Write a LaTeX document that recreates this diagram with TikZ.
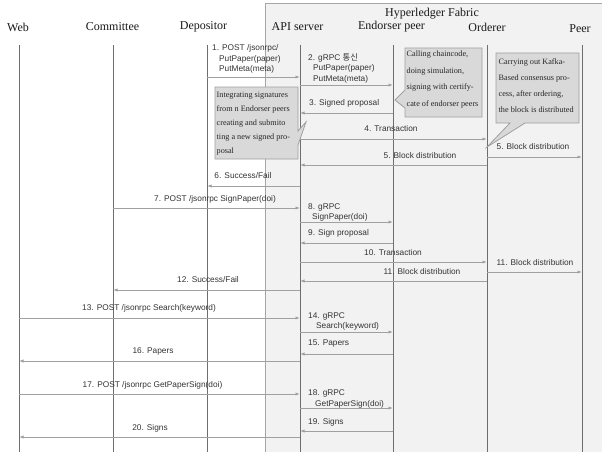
\documentclass[tikz,border=0pt]{standalone}
\usepackage{fontspec}
\setmainfont{Liberation Serif}
\newfontfamily\labfont{Liberation Sans}
\newfontfamily\krfont{Noto Sans CJK KR}
\usetikzlibrary{arrows.meta}
\definecolor{bgfill}{HTML}{F2F2F2}
\definecolor{bgline}{HTML}{A6A6A6}
\definecolor{lifec}{HTML}{6E6E6E}
\definecolor{msgc}{HTML}{A0A0A0}
\definecolor{labc}{HTML}{333333}
\definecolor{notefill}{HTML}{D9D9D9}
\definecolor{notec}{HTML}{A0A0A0}
\begin{document}
\begin{tikzpicture}[x=1pt,y=-1pt,
  life/.style={draw=lifec, line width=0.9pt},
  msg/.style={draw=msgc, line width=0.8pt, -{Latex[length=4.5pt,width=3.2pt]}},
  lab/.style={font=\labfont\fontsize{8.3}{10.5}\selectfont, text=labc, inner sep=0pt},
  ttl/.style={font=\fontsize{12}{14}\selectfont, text=black!90, inner sep=0pt},
  note/.style={draw=notec, fill=notefill, line width=0.8pt},
  notetext/.style={align=left, inner sep=0pt, anchor=west, text=black!85}]
\useasboundingbox (0,0) rectangle (602,452);
% background group
\draw[fill=bgfill, draw=bgline, line width=0.8pt] (265.5,3.5) rectangle (604,455);
% titles
\node[ttl] (fab) at (432,14) {Hyperledger Fabric};
\node[ttl] (tweb) at (18,27) {Web};
\node[ttl] (tcom) at (112.5,27) {Committee};
\node[ttl] (tdep) at (203.5,27) {Depositor};
\node[ttl] (tapi) at (297.5,27) {API server};
\node[ttl] (tend) at (391.5,27) {Endorser peer};
\node[ttl] (tord) at (487,27) {Orderer};
\node[ttl] (tpeer) at (580,29) {Peer};
% lifelines
\coordinate (web) at (19,45);  \coordinate (webB) at (19,453);
\coordinate (com) at (113,45); \coordinate (comB) at (113,453);
\coordinate (dep) at (207,45); \coordinate (depB) at (207,453);
\coordinate (api) at (300,45); \coordinate (apiB) at (300,453);
\coordinate (end) at (393,45); \coordinate (endB) at (393,453);
\coordinate (ord) at (487,45); \coordinate (ordB) at (487,453);
\coordinate (peer) at (582,45); \coordinate (peerB) at (582,453);
\foreach \n in {web,com,dep,api,end,ord,peer} {\draw[life] (\n) -- (\n B);}
% message levels
\foreach \k/\yy in {1/77,2/85,3/113,4/139,5/165,5b/157,6/186,7/208,8/222,9/243,10/262,11/281,11b/272,12/290,13/318,14/332,15/354,16/361,17/394,18/408,19/431,20/437}
  {\coordinate (m\k) at (0,\yy);}
% messages
\draw[msg] (dep|-m1) -- (api|-m1);
\draw[msg] (api|-m2) -- (end|-m2);
\draw[msg] (end|-m3) -- (api|-m3);
\draw[msg] (api|-m4) -- (ord|-m4);
\draw[msg] (ord|-m5) -- (api|-m5);
\draw[msg] (ord|-m5b) -- (peer|-m5b);
\draw[msg] (api|-m6) -- (dep|-m6);
\draw[msg] (com|-m7) -- (api|-m7);
\draw[msg] (api|-m8) -- (end|-m8);
\draw[msg] (end|-m9) -- (api|-m9);
\draw[msg] (api|-m10) -- (ord|-m10);
\draw[msg] (ord|-m11) -- (api|-m11);
\draw[msg] (ord|-m11b) -- (peer|-m11b);
\draw[msg] (api|-m12) -- (com|-m12);
\draw[msg] (web|-m13) -- (api|-m13);
\draw[msg] (api|-m14) -- (end|-m14);
\draw[msg] (end|-m15) -- (api|-m15);
\draw[msg] (api|-m16) -- (web|-m16);
\draw[msg] (web|-m17) -- (api|-m17);
\draw[msg] (api|-m18) -- (end|-m18);
\draw[msg] (end|-m19) -- (api|-m19);
\draw[msg] (api|-m20) -- (web|-m20);
% labels
\node[lab, align=left, anchor=west] (l1) at (212,59) {1. POST /jsonrpc/\\\hspace*{7pt}PutPaper(paper)\\\hspace*{7pt}PutMeta(meta)};
\node[lab, align=left, anchor=west] (l2) at (308,68) {2. gRPC {\krfont 통신}\\\hspace*{5pt}PutPaper(paper)\\\hspace*{5pt}PutMeta(meta)};
\node[lab, anchor=west] (l3) at (309,103) {3. Signed proposal};
\node[lab] (l4) at (391,129) {4. Transaction};
\node[lab] (l5) at (420,156) {5. Block distribution};
\node[lab] (l5b) at (533,147) {5. Block distribution};
\node[lab] (l6) at (243,176) {6. Success/Fail};
\node[lab] (l7) at (215,199) {7. POST /jsonrpc SignPaper(doi)};
\node[lab, align=left, anchor=west] (l8) at (308,212.5) {8. gRPC\\\hspace*{4pt}SignPaper(doi)};
\node[lab, anchor=west] (l9) at (308,233) {9. Sign proposal};
\node[lab] (l10) at (393,253) {10. Transaction};
\node[lab] (l11) at (422,272) {11. Block distribution};
\node[lab] (l11b) at (535,263) {11. Block distribution};
\node[lab] (l12) at (208,280) {12. Success/Fail};
\node[lab] (l13) at (149,308) {13. POST /jsonrpc Search(keyword)};
\node[lab, align=left, anchor=west] (l14) at (308,321.5) {14. gRPC\\\hspace*{8pt}Search(keyword)};
\node[lab, anchor=west] (l15) at (308,344) {15. Papers};
\node[lab] (l16) at (153,351) {16. Papers};
\node[lab] (l17) at (152.5,385) {17. POST /jsonrpc GetPaperSign(doi)};
\node[lab, align=left, anchor=west] (l18) at (308,399) {18. gRPC\\\hspace*{7pt}GetPaperSign(doi)};
\node[lab, anchor=west] (l19) at (308,422) {19. Signs};
\node[lab] (l20) at (150,428) {20. Signs};
% callouts
\draw[note] (405,48) -- (482,48) -- (482,117) -- (405,117) -- (405,108) -- (395,100) -- (405,90) -- cycle;
\node[notetext, font=\fontsize{8.2}{16.5}\selectfont] (na) at (406.5,79.5) {Calling chaincode,\\doing simulation,\\signing with certify-\\cate of endorser peers};
\draw[note] (496,53) -- (579,53) -- (579,123) -- (525,123) -- (487,147) -- (510,123) -- (496,123) -- cycle;
\node[notetext, font=\fontsize{8.2}{16}\selectfont] (nb) at (498.5,86) {Carrying out Kafka-\\Based consensus pro-\\cess, after ordering,\\the block is distributed};
\draw[note] (215,87) -- (298,87) -- (298,131) -- (306,122) -- (298,145) -- (298,159) -- (215,159) -- cycle;
\node[notetext, font=\fontsize{8.2}{14}\selectfont] (nc) at (216.5,123.5) {Integrating signatures\\from n Endorser peers\\creating and submito\\ting a new signed pro-\\posal};
\end{tikzpicture}
\end{document}
